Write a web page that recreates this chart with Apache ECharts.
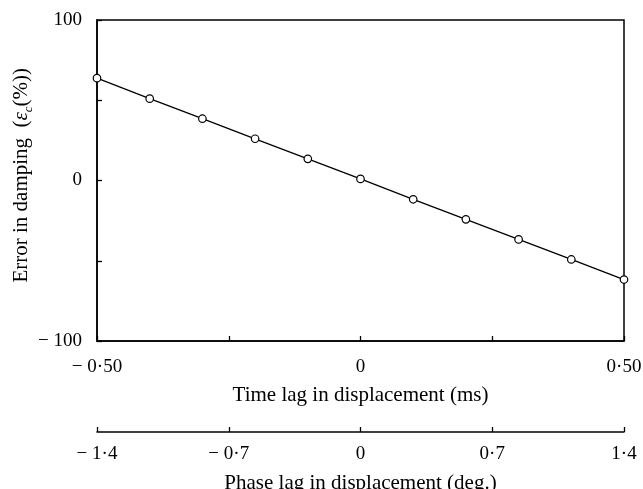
<!DOCTYPE html>
<html>
<head>
<meta charset="utf-8">
<script src="https://cdn.jsdelivr.net/npm/echarts@6/dist/echarts.min.js"></script>
<style>html,body{margin:0;padding:0;background:#fff;}#c{width:643px;height:489px;}</style>
</head>
<body>
<div id="c"></div>
<script>
var timeLag = [-0.5, -0.4, -0.3, -0.2, -0.1, 0, 0.1, 0.2, 0.3, 0.4, 0.5];
var dampingError = [63.75, 51, 38.5, 26, 13.5, 1, -11.7, -24.2, -36.7, -49.2, -61.7];
var timeTicks = {'-0.5': '\u2212 0\u00b750', '0': '0', '0.5': '0\u00b750'};
var phaseTicks = {'-1.4': '\u2212 1\u00b74', '-0.7': '\u2212 0\u00b77', '0': '0', '0.7': '0\u00b77', '1.4': '1\u00b74'};
var yTicks = {'-100': '\u2212 100', '0': '0', '100': '100'};

var FONT = 'Liberation Serif';
var FS = 19;
var TFS = 21;
function fmt(map) {
  return function (v) {
    var k = String(Math.round(v * 100) / 100);
    return map.hasOwnProperty(k) ? map[k] : '';
  };
}
var axisLine = {onZero: false, lineStyle: {color: '#000', width: 1.5}};
var tick = {show: true, inside: true, length: 5, lineStyle: {color: '#000', width: 1.3}};
var chart = echarts.init(document.getElementById('c'));
chart.setOption({
  animation: false,
  backgroundColor: '#fff',
  grid: {left: 97, right: 19, top: 20, bottom: 148, outerBoundsMode: 'none', containLabel: false,
         show: true, borderColor: '#000', borderWidth: 1.5, backgroundColor: 'transparent'},
  xAxis: [{
    type: 'value', min: -0.5, max: 0.5, interval: 0.25, position: 'bottom',
    axisLine: axisLine, axisTick: tick,
    splitLine: {show: false},
    axisLabel: {formatter: fmt(timeTicks), color: '#000', fontFamily: FONT, fontSize: FS, margin: 17, showMinLabel: true, showMaxLabel: true},
    name: 'Time lag in displacement (ms)', nameLocation: 'middle', nameGap: 44, nameMoveOverlap: false,
    nameTextStyle: {color: '#000', fontFamily: FONT, fontSize: TFS}
  }, {
    type: 'value', min: -1.4, max: 1.4, interval: 0.7, position: 'bottom', offset: 91,
    axisLine: axisLine, axisTick: tick,
    splitLine: {show: false},
    axisLabel: {formatter: fmt(phaseTicks), color: '#000', fontFamily: FONT, fontSize: FS, margin: 13, showMinLabel: true, showMaxLabel: true},
    name: 'Phase lag in displacement (deg.)', nameLocation: 'middle', nameGap: 41, nameMoveOverlap: false,
    nameTextStyle: {color: '#000', fontFamily: FONT, fontSize: TFS}
  }],
  yAxis: {
    type: 'value', min: -100, max: 100, interval: 50,
    axisLine: axisLine, axisTick: tick,
    splitLine: {show: false},
    axisLabel: {formatter: fmt(yTicks), color: '#000', fontFamily: FONT, fontSize: FS, margin: 15, showMinLabel: true, showMaxLabel: true},
    name: '{n|\u00a0\u00a0Error in damping  (}{e|\u03b5}{s|c}{n|(%))}', nameLocation: 'middle', nameGap: 62, nameRotate: 90, nameMoveOverlap: false,
    nameTextStyle: {
      color: '#000', fontFamily: FONT, fontSize: TFS,
      rich: {
        n: {fontFamily: FONT, fontSize: TFS, color: '#000', lineHeight: 28},
        e: {fontFamily: FONT, fontSize: TFS, fontStyle: 'italic', color: '#000', lineHeight: 28},
        s: {fontFamily: FONT, fontSize: 13, fontStyle: 'italic', color: '#000', verticalAlign: 'bottom', lineHeight: 13}
      }
    }
  },
  series: [{
    type: 'line',
    xAxisIndex: 0,
    data: timeLag.map(function (t, i) { return [t, dampingError[i]]; }),
    symbol: 'circle', symbolSize: 7.5,
    itemStyle: {color: '#fff', borderColor: '#000', borderWidth: 1.2},
    lineStyle: {color: '#000', width: 1.3},
    clip: false
  }]
});
</script>
</body>
</html>
